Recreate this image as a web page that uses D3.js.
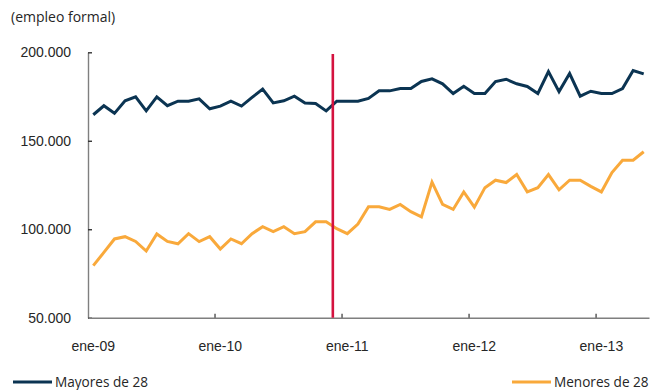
<!DOCTYPE html>
<html>
<head>
<meta charset="utf-8">
<script src="https://cdn.jsdelivr.net/npm/d3@7"></script>
<style>
  html, body { margin: 0; padding: 0; background: #ffffff; }
  svg { display: block; font-family: "Open Sans", "Noto Sans", sans-serif; }
</style>
</head>
<body>
<svg id="chart" width="652" height="390"></svg>
<script>
// Monthly formal employment, January 2009 to May 2013
const months = d3.timeMonths(new Date(2009, 0, 1), new Date(2013, 5, 1));

const mayores28 = [
  164.7, 169.8, 165.5, 172.6, 174.8, 166.9, 174.8, 169.8, 172.4, 172.4,
  173.7, 168.1, 169.6, 172.4, 169.6, 174.5, 179.2, 171.4, 172.6, 175.2,
  171.4, 171.1, 166.9, 172.4, 172.4, 172.4, 173.9, 178.2, 178.2, 179.5,
  179.5, 183.5, 185.0, 182.2, 176.7, 180.8, 176.7, 176.7, 183.5, 184.8,
  182.2, 180.7, 176.7, 189.1, 177.8, 188.0, 175.2, 178.0, 176.7, 176.7,
  179.5, 189.7, 187.8
].map(v => v * 1000);

const menores28 = [
  79.4, 86.9, 94.5, 95.8, 93.1, 87.7, 97.3, 93.1, 91.8, 97.5,
  93.0, 95.8, 88.8, 94.5, 91.8, 97.5, 101.4, 98.6, 101.4, 97.5,
  98.6, 104.2, 104.2, 100.3, 97.5, 102.9, 112.7, 112.7, 111.2, 114.0,
  109.9, 107.0, 126.6, 114.0, 111.2, 121.1, 112.5, 123.5, 127.7, 126.4,
  130.9, 121.1, 123.5, 130.9, 122.3, 127.7, 127.7, 124.2, 121.1, 132.0,
  139.0, 139.0, 143.8
].map(v => v * 1000);

const yTicks = [50000, 100000, 150000, 200000];
const xTickLabels = ["ene-09", "ene-10", "ene-11", "ene-12", "ene-13"];
const seriesNames = ["Mayores de 28", "Menores de 28"];
const markerMonth = new Date(2010, 11, 1);   // vertical reference line (dic-10)

const colors = { mayores: "#0b3452", menores: "#f9a93b", marker: "#d4123f", axis: "#7f7f7f", text: "#262626" };

const svg = d3.select("#chart");

const x = d3.scaleBand()
  .domain(months)
  .range([88, 649])
  .padding(0);

const y = d3.scaleLinear()
  .domain([50000, 200000])
  .range([317.7, 52.3]);

const esLocale = d3.formatLocale({ decimal: ",", thousands: ".", grouping: [3], currency: ["$", ""] });
const fmt = esLocale.format(",");

// y axis: ticks point into the plot
const yAxis = svg.append("g")
  .attr("transform", `translate(${x.range()[0]},0)`)
  .call(d3.axisLeft(y).tickValues(yTicks).tickFormat(fmt).tickSizeInner(-4).tickSizeOuter(0).tickPadding(17));
yAxis.select(".domain").attr("stroke", colors.axis).attr("stroke-width", 1.4);
yAxis.selectAll(".tick line").attr("stroke", "#333").attr("stroke-width", 1.4);
yAxis.selectAll(".tick text").attr("fill", colors.text).attr("font-size", 14);

// x axis: labels centred on January, tick marks on the month boundary
const janMonths = months.filter(d => d.getMonth() === 0);
const xAxis = svg.append("g")
  .attr("transform", `translate(0,${y.range()[0]})`)
  .call(d3.axisBottom(x).tickValues(janMonths)
    .tickFormat((d, i) => xTickLabels[i]).tickSizeInner(0).tickSizeOuter(0).tickPadding(23));
xAxis.select(".domain").attr("stroke", colors.axis).attr("stroke-width", 1.4);
xAxis.selectAll(".tick text").attr("fill", colors.text).attr("font-size", 14);
xAxis.selectAll(".tick line").remove();
xAxis.selectAll(".tickmark")
  .data(janMonths.slice(1))
  .join("line")
  .attr("class", "tickmark")
  .attr("x1", d => x(d)).attr("x2", d => x(d))
  .attr("y1", 0).attr("y2", -4)
  .attr("stroke", "#333").attr("stroke-width", 1.2);

// unit caption
svg.append("text")
  .attr("x", 11).attr("y", 22)
  .attr("fill", colors.text).attr("font-size", 14)
  .text("(empleo formal)");

const line = d3.line()
  .x((d, i) => x(months[i]) + x.bandwidth() / 2)
  .y(d => y(d));

svg.append("path")
  .datum(menores28)
  .attr("fill", "none")
  .attr("stroke", colors.menores)
  .attr("stroke-width", 3)
  .attr("d", line);

svg.append("path")
  .datum(mayores28)
  .attr("fill", "none")
  .attr("stroke", colors.mayores)
  .attr("stroke-width", 3)
  .attr("d", line);

// vertical reference line
const mx = x(markerMonth) + x.bandwidth() * 0.13;
svg.append("line")
  .attr("x1", mx).attr("x2", mx)
  .attr("y1", 54).attr("y2", y.range()[0])
  .attr("stroke", colors.marker)
  .attr("stroke-width", 2.6);

// legend
const legend = [
  { name: seriesNames[0], color: colors.mayores, x: 13 },
  { name: seriesNames[1], color: colors.menores, x: 512 }
];
const lg = svg.selectAll(".legend")
  .data(legend)
  .join("g")
  .attr("class", "legend")
  .attr("transform", d => `translate(${d.x},382)`);
lg.append("line")
  .attr("x1", 0).attr("x2", 39)
  .attr("stroke", d => d.color)
  .attr("stroke-width", 3);
lg.append("text")
  .attr("x", 42).attr("y", 4.5)
  .attr("fill", colors.text).attr("font-size", 13.6)
  .text(d => d.name);
</script>
</body>
</html>
